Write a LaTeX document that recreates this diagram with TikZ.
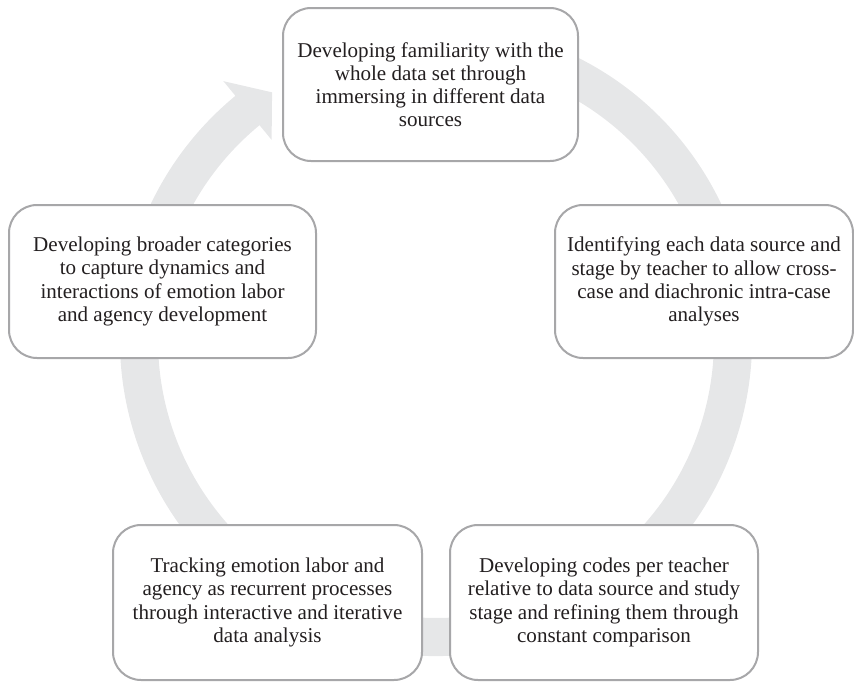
\documentclass[tikz,border=0pt]{standalone}
\usepackage{fontspec}
\setmainfont{Liberation Serif}
\definecolor{ringgray}{HTML}{E6E7E8}
\definecolor{boxgray}{HTML}{A7A7A9}
\definecolor{inkblack}{HTML}{231F20}
\begin{document}
\begin{tikzpicture}[x=0.75pt,y=-0.75pt,
  stage/.style={draw=boxgray, line width=1.5pt, fill=white,
    rounded corners=21pt, align=center, inner sep=0pt,
    text=inkblack, font=\fontsize{15.8}{17.4}\selectfont}]
\useasboundingbox (0,0) rectangle (854,682);

% cycle ring with its arrow head, drawn beneath the stages
\fill[ringgray, shift={(436,340)}]
  (290:316) arc[start angle=290, end angle=590.6, radius=316]
  -- (590.6:335) -- (596.5:297) -- (590.6:259) -- (590.6:278)
  arc[start angle=590.6, end angle=290, radius=278] -- cycle;

% stages of the analysis
\node[stage, minimum width=221.25pt, minimum height=114.75pt] (s1) at (430.5,84.5)
  {Developing familiarity with the\\whole data set through\\immersing in different data\\sources};
\node[stage, minimum width=223.5pt, minimum height=114.75pt] (s2) at (704,281.5)
  {Identifying each data source and\\stage by teacher to allow cross-\\case and diachronic intra-case\\analyses};
\node[stage, minimum width=231pt, minimum height=116.25pt] (s3) at (604,602.5)
  {Developing codes per teacher\\relative to data source and study\\stage and refining them through\\constant comparison};
\node[stage, minimum width=231.75pt, minimum height=116.25pt] (s4) at (267.5,602.5)
  {Tracking emotion labor and\\agency as recurrent processes\\through interactive and iterative\\data analysis};
\node[stage, minimum width=230.25pt, minimum height=114.75pt] (s5) at (162.5,281.5)
  {Developing broader categories\\to capture dynamics and\\interactions of emotion labor\\and agency development};
\end{tikzpicture}
\end{document}
